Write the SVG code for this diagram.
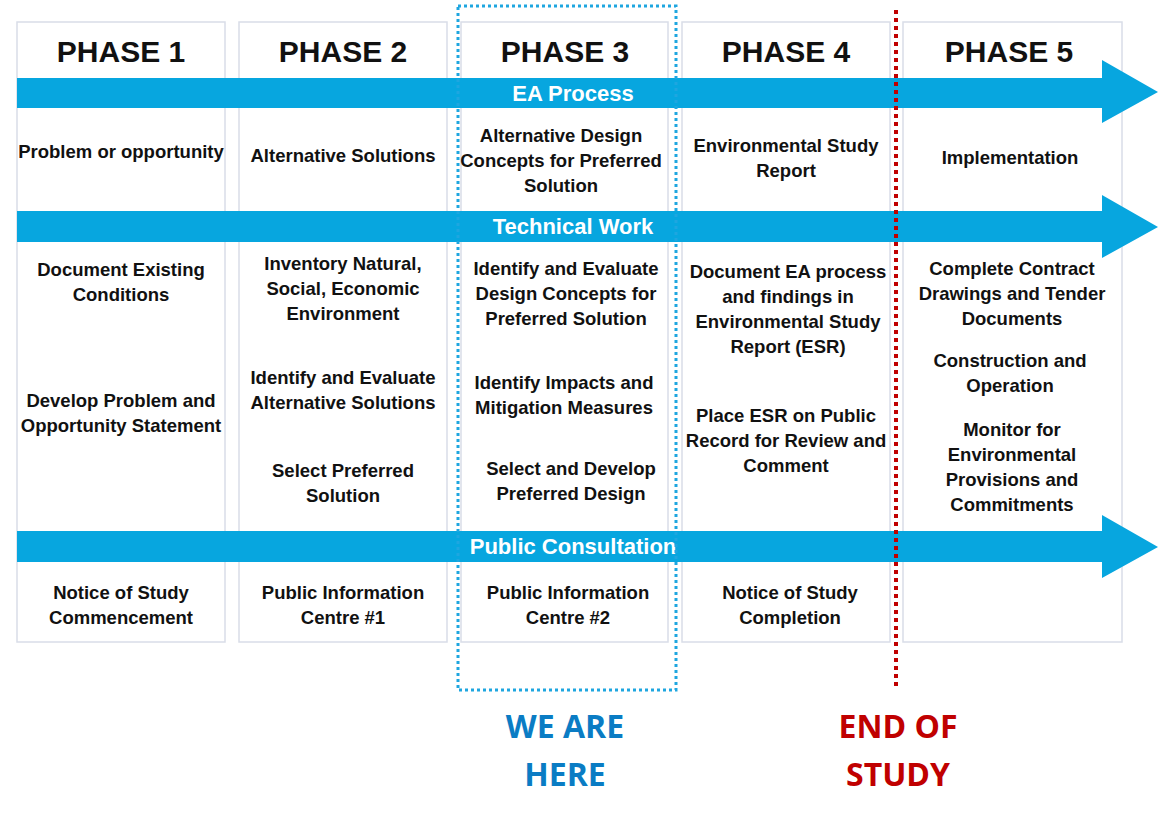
<svg xmlns="http://www.w3.org/2000/svg" width="1163" height="822" viewBox="0 0 1163 822">
<style>
.col{fill:#fff;stroke:#d9dde8;stroke-width:1.5}
.t{font-family:"Liberation Sans Narrow","Liberation Sans",Arial,sans-serif;font-weight:bold;font-size:18.5px;fill:#111;text-anchor:middle}
.h{font-family:"Liberation Sans Narrow","Liberation Sans",Arial,sans-serif;font-weight:bold;font-size:30px;fill:#111;text-anchor:middle}
.a{fill:#07a6df}
.al{font-family:"Liberation Sans Narrow","Liberation Sans",Arial,sans-serif;font-weight:bold;font-size:22px;fill:#fff;text-anchor:middle}
.big{font-family:"Open Sans","Liberation Sans",sans-serif;font-weight:bold;font-size:32px;text-anchor:middle}
</style>
<rect width="1163" height="822" fill="#fff"/>
<g id="phase1"><rect class="col" x="17" y="22" width="208" height="620"/><text class="h" x="121" y="62">PHASE 1</text>
<text class="t"><tspan x="121" y="158">Problem or opportunity</tspan></text>
<text class="t"><tspan x="121" y="276">Document Existing</tspan><tspan x="121" y="301">Conditions</tspan></text>
<text class="t"><tspan x="121" y="407">Develop Problem and</tspan><tspan x="121" y="432">Opportunity Statement</tspan></text>
<text class="t"><tspan x="121" y="599">Notice of Study</tspan><tspan x="121" y="624">Commencement</tspan></text></g>
<g id="phase2"><rect class="col" x="239" y="22" width="208" height="620"/><text class="h" x="343" y="62">PHASE 2</text>
<text class="t"><tspan x="343" y="162">Alternative Solutions</tspan></text>
<text class="t"><tspan x="343" y="270">Inventory Natural,</tspan><tspan x="343" y="295">Social, Economic</tspan><tspan x="343" y="320">Environment</tspan></text>
<text class="t"><tspan x="343" y="384">Identify and Evaluate</tspan><tspan x="343" y="409">Alternative Solutions</tspan></text>
<text class="t"><tspan x="343" y="477">Select Preferred</tspan><tspan x="343" y="502">Solution</tspan></text>
<text class="t"><tspan x="343" y="599">Public Information</tspan><tspan x="343" y="624">Centre #1</tspan></text></g>
<g id="phase3"><rect class="col" x="461" y="22" width="207" height="620"/><text class="h" x="565" y="62">PHASE 3</text>
<text class="t"><tspan x="561" y="142">Alternative Design</tspan><tspan x="561" y="167">Concepts for Preferred</tspan><tspan x="561" y="192">Solution</tspan></text>
<text class="t"><tspan x="566" y="275">Identify and Evaluate</tspan><tspan x="566" y="300">Design Concepts for</tspan><tspan x="566" y="325">Preferred Solution</tspan></text>
<text class="t"><tspan x="564" y="389">Identify Impacts and</tspan><tspan x="564" y="414">Mitigation Measures</tspan></text>
<text class="t"><tspan x="571" y="475">Select and Develop</tspan><tspan x="571" y="500">Preferred Design</tspan></text>
<text class="t"><tspan x="568" y="599">Public Information</tspan><tspan x="568" y="624">Centre #2</tspan></text></g>
<g id="phase4"><rect class="col" x="682" y="22" width="208" height="620"/><text class="h" x="786" y="62">PHASE 4</text>
<text class="t"><tspan x="786" y="152">Environmental Study</tspan><tspan x="786" y="177">Report</tspan></text>
<text class="t"><tspan x="788" y="278">Document EA process</tspan><tspan x="788" y="303">and findings in</tspan><tspan x="788" y="328">Environmental Study</tspan><tspan x="788" y="353">Report (ESR)</tspan></text>
<text class="t"><tspan x="786" y="422">Place ESR on Public</tspan><tspan x="786" y="447">Record for Review and</tspan><tspan x="786" y="472">Comment</tspan></text>
<text class="t"><tspan x="790" y="599">Notice of Study</tspan><tspan x="790" y="624">Completion</tspan></text></g>
<g id="phase5"><rect class="col" x="903" y="22" width="219" height="620"/><text class="h" x="1009" y="62">PHASE 5</text>
<text class="t"><tspan x="1010" y="164">Implementation</tspan></text>
<text class="t"><tspan x="1012" y="275">Complete Contract</tspan><tspan x="1012" y="300">Drawings and Tender</tspan><tspan x="1012" y="325">Documents</tspan></text>
<text class="t"><tspan x="1010" y="367">Construction and</tspan><tspan x="1010" y="392">Operation</tspan></text>
<text class="t"><tspan x="1012" y="436">Monitor for</tspan><tspan x="1012" y="461">Environmental</tspan><tspan x="1012" y="486">Provisions and</tspan><tspan x="1012" y="511">Commitments</tspan></text></g>
<g id="connectors">
<path class="a" d="M17 78H1102V60L1158 92L1102 123V108H17Z"/>
<path class="a" d="M17 211H1102V195L1158 227L1102 258V242H17Z"/>
<path class="a" d="M17 531H1102V515L1158 547L1102 578V562H17Z"/>
<text class="al" x="573" y="101">EA Process</text>
<text class="al" x="573" y="234">Technical Work</text>
<text class="al" x="573" y="554">Public Consultation</text>
<rect x="458" y="6" width="218" height="684" fill="none" stroke="#1ea6e0" stroke-width="3" stroke-dasharray="3 3"/>
<line x1="896" y1="10" x2="896" y2="690" stroke="#c00000" stroke-width="4" stroke-dasharray="4 4"/>
</g>
<g id="labels">
<text class="big" fill="#0a7cc4"><tspan x="565" y="738">WE ARE</tspan><tspan x="565" y="786">HERE</tspan></text>
<text class="big" fill="#c00000"><tspan x="898" y="738">END OF</tspan><tspan x="898" y="786">STUDY</tspan></text>
</g>
</svg>
